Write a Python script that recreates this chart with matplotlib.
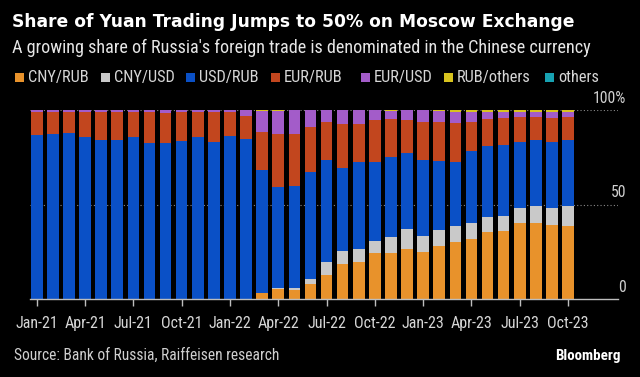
import matplotlib
matplotlib.use("Agg")
import matplotlib.pyplot as plt
import numpy as np
from matplotlib import font_manager
from matplotlib.patches import Rectangle

# Monthly share (%) of trading volume by currency pair, Jan-21 .. Oct-23
months = [f"{m}-{y}" for y in ("21", "22", "23")
          for m in ("Jan", "Feb", "Mar", "Apr", "May", "Jun",
                    "Jul", "Aug", "Sep", "Oct", "Nov", "Dec")][:34]

cny_rub = [0, 0, 0, 0, 0, 0, 0, 0, 0, 0, 0, 0, 0, 0,
           3.2, 5.1, 4.8, 7.8, 12.7, 18.7, 19.8, 24.3, 24.5, 26.3,
           24.9, 28.2, 30.2, 31.9, 35.4, 36.0, 40.2, 40.4, 39.2, 38.6]
cny_usd = [0, 0, 0, 0, 0, 0, 0, 0, 0, 0, 0, 0, 0, 0,
           0, 0.9, 1.2, 3.0, 7.1, 6.9, 6.9, 6.5, 8.5, 10.6,
           8.6, 8.3, 8.6, 8.3, 7.8, 7.9, 7.8, 8.6, 8.8, 10.6]
usd_rub = [86.8, 87.5, 88.0, 85.5, 84.0, 84.3, 85.9, 82.4, 82.7, 83.4,
           85.7, 82.9, 86.2, 84.7, 65.3, 53.4, 53.8, 56.6, 53.8, 43.6,
           46.0, 41.8, 42.2, 40.2, 40.2, 36.7, 33.9, 38.1, 37.9, 37.6,
           35.3, 34.9, 34.9, 34.7]
eur_rub = [12.4, 11.7, 11.2, 13.7, 15.2, 14.9, 13.1, 16.8, 15.7, 15.8,
           13.5, 16.3, 13.0, 12.3, 19.8, 28.0, 27.7, 23.5, 20.1, 23.3,
           20.1, 22.0, 19.9, 17.6, 19.9, 20.3, 20.6, 15.2, 14.1, 14.1,
           12.9, 12.5, 12.9, 12.2]
eur_usd = [0.8, 0.8, 0.8, 0.8, 0.8, 0.8, 1.0, 0.8, 1.6, 0.8,
           0.8, 0.8, 0.8, 3.0, 11.2, 12.0, 12.5, 9.2, 6.3, 7.6,
           7.2, 5.3, 4.6, 5.3, 6.3, 5.8, 5.8, 5.3, 3.5, 3.2,
           2.6, 2.3, 3.0, 2.6]
rub_others = [0, 0, 0, 0, 0, 0, 0, 0, 0, 0, 0, 0, 0, 0,
              0.3, 0.5, 0.3, 0.3, 0.3, 0.3, 0.4, 0.3, 0.5, 0.3,
              0.4, 0.7, 0.9, 1.2, 1.2, 1.2, 1.2, 1.2, 1.2, 1.2]
others = [0, 0, 0, 0, 0, 0, 0, 0, 0, 0, 0, 0, 0, 0,
          0.5, 0, 0, 0, 0, 0, 0, 0, 0, 0,
          0, 0, 0, 0, 0, 0, 0, 0, 0, 0]

series = [
    ("CNY/RUB", cny_rub, "#E8922B"),
    ("CNY/USD", cny_usd, "#C9C9C9"),
    ("USD/RUB", usd_rub, "#0A50C6"),
    ("EUR/RUB", eur_rub, "#C2461E"),
    ("EUR/USD", eur_usd, "#A35CC9"),
    ("RUB/others", rub_others, "#D8C31E"),
    ("others", others, "#17A2B2"),
]

BG = "#000000"
installed = {f.name for f in font_manager.fontManager.ttflist}
narrow = next((f for f in ("Roboto Condensed", "Liberation Sans Narrow", "Roboto")
               if f in installed), "DejaVu Sans")
plt.rcParams["font.family"] = [narrow, "DejaVu Sans"]

W, H = 640, 377
fig = plt.figure(figsize=(W / 100, H / 100), dpi=100, facecolor=BG)
ax = fig.add_axes([30 / W, 78 / H, 588 / W, 189 / H], facecolor=BG)

x = np.arange(len(months))
bottom = np.zeros(len(months))
for name, vals, color in series:
    vals = np.array(vals, dtype=float)
    ax.bar(x, vals, bottom=bottom, width=0.72, color=color, linewidth=0)
    bottom += vals

ax.set_xlim(-0.42, 36.1)
ax.set_ylim(0, 100)

for v in (50, 100):
    ax.axhline(v, color="#8a8a8a", lw=0.8, ls=(0, (1, 2)), zorder=0)
for v, lab in ((0, "0"), (50, "50"), (100, "100%")):
    ax.annotate(lab, xy=(1.0, v), xycoords=("axes fraction", "data"),
                xytext=(6, 3), textcoords="offset points",
                ha="right", va="bottom", color="#cfcfcf", fontsize=11.3,
                annotation_clip=False)

for s in ("top", "right", "left"):
    ax.spines[s].set_visible(False)
ax.spines["bottom"].set_color("#bdbdbd")
ax.spines["bottom"].set_linewidth(1)
ax.set_yticks([])
ax.set_xticks(x[::3])
ax.set_xticklabels(months[::3])
ax.tick_params(axis="x", colors="#bdbdbd", length=5, width=1,
               labelcolor="#d6d6d6", labelsize=11.5, pad=7)

# titles
fig.text(12 / W, 1 - 27 / H, "Share of Yuan Trading Jumps to 50% on Moscow Exchange",
         color="white", fontsize=12.3, fontweight="bold",
         family=["DejaVu Sans"], va="baseline")
fig.text(12 / W, 1 - 53 / H,
         "A growing share of Russia's foreign trade is denominated in the Chinese currency",
         color="#e6e6e6", fontsize=13.1, va="baseline")

# legend row
leg_x = [15, 101, 186, 271, 361, 444, 545]
for (name, _, color), lx in zip(series, leg_x):
    fig.add_artist(Rectangle((lx / W, 1 - 82 / H), 9 / W, 9 / H,
                             transform=fig.transFigure, color=color, lw=0))
    fig.text((lx + 13) / W, 1 - 82 / H, name, color="#d6d6d6",
             fontsize=11.8, va="baseline")

fig.text(14 / W, 1 - 360 / H, "Source: Bank of Russia, Raiffeisen research",
         color="#cfcfcf", fontsize=11.2, va="baseline")
fig.text(621 / W, 1 - 360 / H, "Bloomberg", color="white", fontsize=10.8,
         fontweight="bold", ha="right", va="baseline")

fig.savefig("out.png", dpi=100, facecolor=BG)
